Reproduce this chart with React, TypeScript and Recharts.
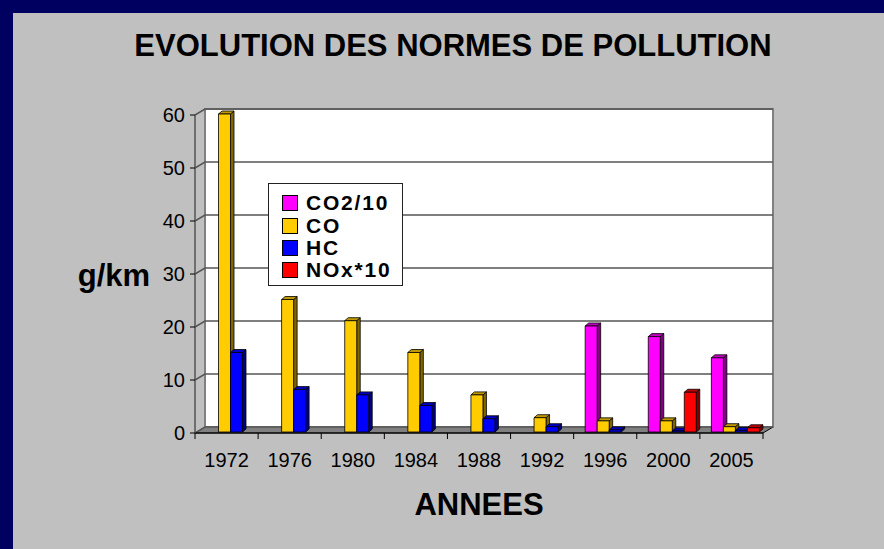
import { BarChart, Bar, XAxis, YAxis, CartesianGrid, ReferenceArea, Legend } from "recharts";

const years = ["1972", "1976", "1980", "1984", "1988", "1992", "1996", "2000", "2005"];
const seriesNames = ["CO2/10", "CO", "HC", "NOx*10"];
const co2 = [null, null, null, null, null, null, 20, 18, 14];
const co = [60, 25, 21, 15, 7, 2.7, 2.1, 2.1, 1.0];
const hc = [15, 8, 7, 5, 2.5, 1.0, 0.4, 0.2, 0.3];
const nox = [null, null, null, null, null, null, null, 7.5, 0.8];
const yTicks = [0, 10, 20, 30, 40, 50, 60];

const rows = years.map((year, i) => ({ year, co2: co2[i], co: co[i], hc: hc[i], nox: nox[i] }));

// 3d look: back wall shift, and bar front face shift / depth
const DX = 10, DY = 6;
const BX = 3.5, BY = 1;
const BD = 3.5, BV = 3;
const font = "'Liberation Sans', Arial, sans-serif";
const navy = "#000060";

function Walls(p: any) {
  const { x, y, width: w, height: h } = p;
  return (
    <g>
      <rect x={x + DX} y={y - DY} width={w} height={h} fill="#fff" stroke="#808080" strokeWidth={2} />
      <polygon points={`${x},${y + h} ${x + DX},${y + h - DY} ${x + w + DX},${y + h - DY} ${x + w},${y + h}`} fill="#808080" />
      <line x1={x + w} y1={y + h} x2={x + w + DX} y2={y + h - DY} stroke="#000" strokeWidth={1} />
    </g>
  );
}

function GridLine(p: any) {
  const { x1, x2, y1 } = p;
  return (
    <polyline key={`g${y1}`} points={`${x1},${y1} ${x1 + DX},${y1 - DY} ${x2 + DX},${y1 - DY}`}
      fill="none" stroke="#555" strokeWidth={1.5} />
  );
}

function makeBox(front: string, side: string, top: string) {
  return (p: any) => {
    const { x, y, width: w, height: h } = p;
    if (x == null || !(h > 0)) return <g />;
    const fx = x + BX, fy = y - BY;
    return (
      <g stroke="#000" strokeWidth={0.8} strokeLinejoin="round">
        <polygon points={`${fx + w},${fy} ${fx + w + BD},${fy - BV} ${fx + w + BD},${fy + h - BV} ${fx + w},${fy + h}`} fill={side} />
        <polygon points={`${fx},${fy} ${fx + BD},${fy - BV} ${fx + w + BD},${fy - BV} ${fx + w},${fy}`} fill={top} />
        <rect x={fx} y={fy} width={w} height={h} fill={front} />
      </g>
    );
  };
}

function YearTick(p: any) {
  const { x, y, payload, index } = p;
  const off = payload?.offset ?? 31.5;
  return (
    <g>
      <line x1={x - off} y1={y} x2={x - off} y2={y + 6} stroke="#000" />
      {index === years.length - 1 && <line x1={x + off} y1={y} x2={x + off} y2={y + 6} stroke="#000" />}
      <text x={x} y={y + 34} textAnchor="middle" fontSize={20} fontFamily={font} fill="#000">{payload.value}</text>
    </g>
  );
}

function LegendBox(p: any) {
  const items = [...(p.payload || [])].sort(
    (a: any, b: any) => seriesNames.indexOf(a.value) - seriesNames.indexOf(b.value));
  return (
    <div style={{ width: 135, height: 103, boxSizing: "border-box", background: "#fff", border: "1px solid #222",
      paddingTop: 8, paddingLeft: 13, fontFamily: font, fontWeight: "bold", fontSize: 21, color: "#000" }}>
      {items.map((it: any) => (
        <div key={it.value} style={{ height: 22.4, display: "flex", alignItems: "center" }}>
          <span style={{ width: 16, height: 16, boxSizing: "border-box", background: it.color, border: "1px solid #000", marginRight: 8 }} />
          <span style={{ lineHeight: "20px", letterSpacing: 1.8 }}>{it.value}</span>
        </div>
      ))}
    </div>
  );
}

export default function App() {
  return (
    <div style={{ position: "absolute", left: 0, top: 0, width: 884, height: 549, background: "#c0c0c0", fontFamily: font, overflow: "hidden" }}>
      <style>{"html,body{margin:0;padding:0;background:#c0c0c0;overflow:hidden}"}</style>
      <div style={{ position: "absolute", left: 0, top: 0, width: 884, height: 13, background: navy }} />
      <div style={{ position: "absolute", left: 0, top: 0, width: 13, height: 549, background: navy }} />
      <div style={{ position: "absolute", left: 0, top: 0 }}>
        <BarChart width={884} height={549} data={rows} barGap={0} barSize={12}
          margin={{ top: 115, right: 121, left: 135, bottom: 56 }}>
          <ReferenceArea y1={0} y2={60} ifOverflow="visible" shape={Walls} zIndex={-200} />
          <CartesianGrid vertical={false} horizontal={GridLine} />
          <XAxis dataKey="year" height={60} tickSize={0} tickMargin={0} tickLine={false} interval={0}
            axisLine={{ stroke: "#000", strokeWidth: 1.5 }} tick={YearTick} />
          <YAxis width={60} domain={[0, 60]} ticks={yTicks} interval={0} tickSize={5} tickMargin={5}
            axisLine={{ stroke: "#555", strokeWidth: 1.5 }} tickLine={{ stroke: "#000" }}
            tick={{ fill: "#000", fontSize: 20, fontFamily: font }} />
          <Legend layout="horizontal" verticalAlign="middle" align="center" content={LegendBox}
            wrapperStyle={{ left: 268, top: 183, width: 135, height: 103 }} />
          <Bar dataKey="co2" name="CO2/10" fill="#ff00ff" shape={makeBox("#ff00ff", "#800080", "#c000c0")} isAnimationActive={false} />
          <Bar dataKey="co" name="CO" fill="#ffcc00" shape={makeBox("#ffcc00", "#806600", "#c09900")} isAnimationActive={false} />
          <Bar dataKey="hc" name="HC" fill="#0000ff" shape={makeBox("#0000ff", "#000080", "#0000c0")} isAnimationActive={false} />
          <Bar dataKey="nox" name="NOx*10" fill="#ff0000" shape={makeBox("#ff0000", "#800000", "#c00000")} isAnimationActive={false} />
        </BarChart>
      </div>
      <svg width={884} height={549} style={{ position: "absolute", left: 0, top: 0, pointerEvents: "none" }}>
        <text x={453} y={56} textAnchor="middle" fontSize={31} fontWeight="bold" fontFamily={font} fill="#000">
          EVOLUTION DES NORMES DE POLLUTION
        </text>
        <text x={114} y={286} textAnchor="middle" fontSize={31} fontWeight="bold" fontFamily={font} fill="#000">g/km</text>
        <text x={479} y={515} textAnchor="middle" fontSize={31} fontWeight="bold" fontFamily={font} fill="#000">ANNEES</text>
      </svg>
    </div>
  );
}
